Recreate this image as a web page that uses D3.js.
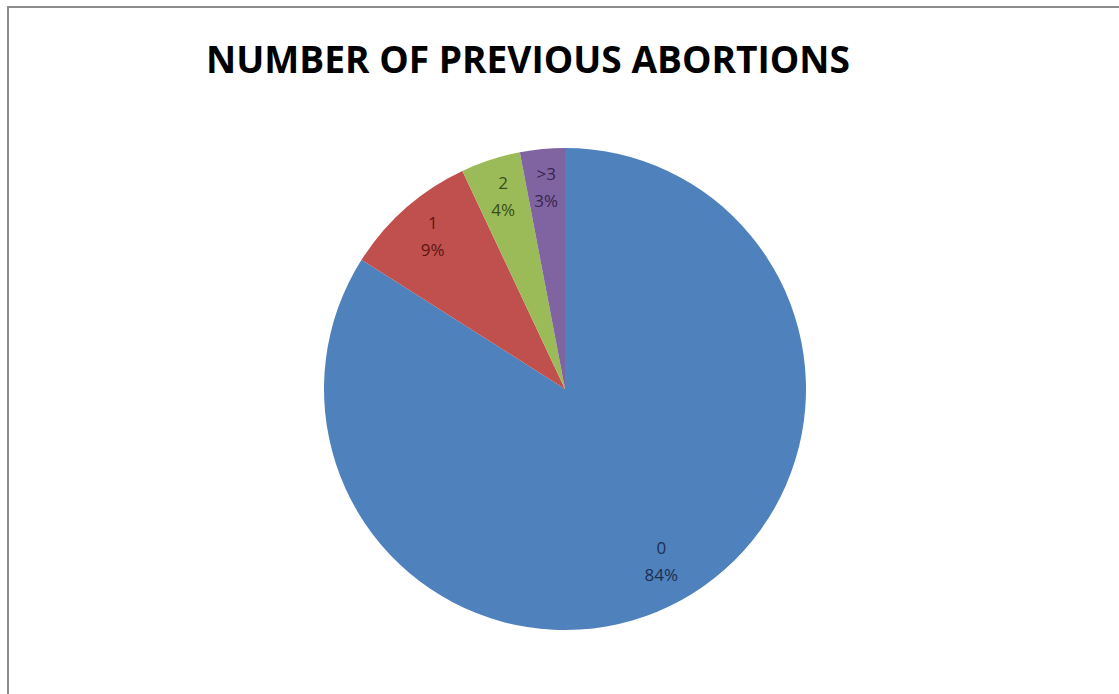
<!DOCTYPE html>
<html>
<head>
<meta charset="utf-8">
<script src="https://cdn.jsdelivr.net/npm/d3@7"></script>
<style>
  html, body { margin: 0; padding: 0; background: #ffffff; }
  svg { display: block; }
</style>
</head>
<body>
<svg id="chart" width="1119" height="694"></svg>
<script>
const title = "NUMBER OF PREVIOUS ABORTIONS";
const categories = ["0", "1", "2", ">3"];
const values = [84, 9, 4, 3];
const percentLabels = ["84%", "9%", "4%", "3%"];
const sliceColors = ["#4f81bd", "#c0504d", "#9bbb59", "#8064a2"];
const labelColors = ["#1c2f4f", "#5a1614", "#3a4f16", "#35264d"];

const svg = d3.select("#chart");
const W = 1119, H = 694;

// frame
svg.append("rect")
  .attr("x", 8).attr("y", 7)
  .attr("width", W + 20).attr("height", H + 20)
  .attr("fill", "#ffffff")
  .attr("stroke", "#8c8c8c")
  .attr("stroke-width", 2);

// title
svg.append("text")
  .attr("x", 528).attr("y", 73)
  .attr("text-anchor", "middle")
  .attr("font-family", "'Open Sans', 'DejaVu Sans', sans-serif")
  .attr("font-weight", "bold")
  .attr("font-size", 37)
  .attr("fill", "#000000")
  .attr("textLength", 644)
  .attr("lengthAdjust", "spacingAndGlyphs")
  .text(title);

const cx = 565, cy = 389, r = 241;
const g = svg.append("g").attr("transform", `translate(${cx},${cy})`);

const data = categories.map((c, i) => ({ cat: c, value: values[i], pct: percentLabels[i], i }));
const pie = d3.pie().value(d => d.value).sort(null);
const arcs = pie(data);
const arc = d3.arc().innerRadius(0).outerRadius(r);
const labelArc = d3.arc().innerRadius(200).outerRadius(200);
const color = d3.scaleOrdinal().domain(categories).range(sliceColors);
const lcolor = d3.scaleOrdinal().domain(categories).range(labelColors);

g.selectAll("path.slice")
  .data(arcs)
  .enter().append("path")
  .attr("class", "slice")
  .attr("d", arc)
  .attr("fill", d => color(d.data.cat))
  .attr("stroke", "none");

const labels = g.selectAll("text.lbl")
  .data(arcs)
  .enter().append("text")
  .attr("class", "lbl")
  .attr("text-anchor", "middle")
  .attr("font-family", "'Open Sans', 'DejaVu Sans', sans-serif")
  .attr("font-size", 17)
  .attr("fill", d => lcolor(d.data.cat))
  .attr("transform", d => { const c = labelArc.centroid(d); return `translate(${c[0]},${c[1] - 3})`; });

labels.append("tspan").attr("x", 0).attr("y", -7).text(d => d.data.cat);
labels.append("tspan").attr("x", 0).attr("y", 20).text(d => d.data.pct);
</script>
</body>
</html>
